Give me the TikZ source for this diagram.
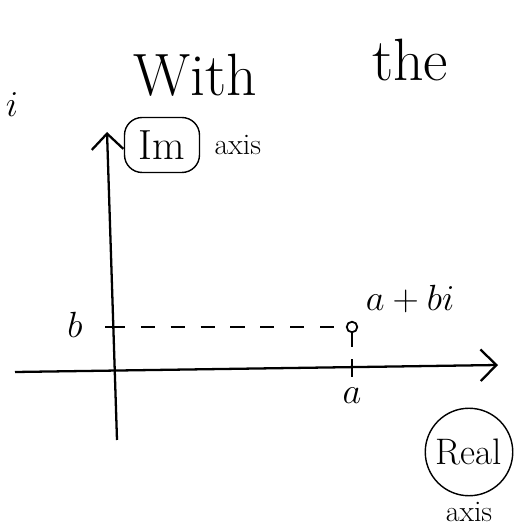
\documentclass[tikz,border=0pt]{standalone}
\usetikzlibrary{arrows.meta, positioning}

\begin{document}
\begin{tikzpicture}[
  x=0.02cm, y=0.02cm,
  axisline/.style={line width=1.3pt, -{Straight Barb[length=9pt,width=18pt,line width=1.3pt]}},
  tickmark/.style={line width=1.1pt},
  guide/.style={line width=1pt, dash pattern=on 8pt off 9pt},
  word/.style={inner sep=1pt, font=\fontsize{34}{40}\selectfont},
  lbl/.style={inner sep=1pt, font=\fontsize{21}{25}\selectfont},
  note/.style={inner sep=1pt, font=\fontsize{17}{20}\selectfont},
  ring/.style={draw, line width=0.8pt},
  pt/.style={circle, draw, line width=1pt, fill=white, inner sep=0pt, minimum size=6pt}
]
  \useasboundingbox (0,0) rectangle (524,527);

  % heading words
  \node[lbl] (i) at (12,422) {$i$};
  \node[word] (with) at (195,452) {With};
  \node[word] (the) at (410,467) {the};

  % axes
  \coordinate (xstart) at (15,155);
  \coordinate (xend) at (498,162);
  \coordinate (ystart) at (117,87);
  \coordinate (yend) at (107,395);
  \draw[axisline] (xstart) -- (xend);
  \draw[axisline] (ystart) -- (yend);

  \node[ring, rounded corners=10pt, minimum width=1.5cm, minimum height=1.1cm,
        font=\fontsize{24}{28}\selectfont] (im) at (162,382) {Im};
  \node[note, right=7pt of im] (imaxis) {axis};

  % the point a+bi
  \coordinate (btick) at (111,200);
  \coordinate (atick) at (352,159);
  \node[pt] (P) at (352,200) {};
  \draw[tickmark] (btick) ++(-6,0) -- ++(12,0);
  \draw[tickmark] (atick) ++(0,-9) -- ++(0,18);
  \draw[guide] (btick) -- (P);
  \draw[guide] (P) -- (atick);

  \node[lbl] (b) at (75,202) {$b$};
  \node[lbl, below=10pt of atick] (a) {$a$};
  \node[lbl] (abi) at (410,228) {$a+bi$};

  \node[ring, circle, minimum size=1.75cm, inner sep=0pt,
        font=\fontsize{21}{25}\selectfont] (real) at (469,75) {Real};
  \node[note, below=2pt of real] (realaxis) {axis};
\end{tikzpicture}
\end{document}
